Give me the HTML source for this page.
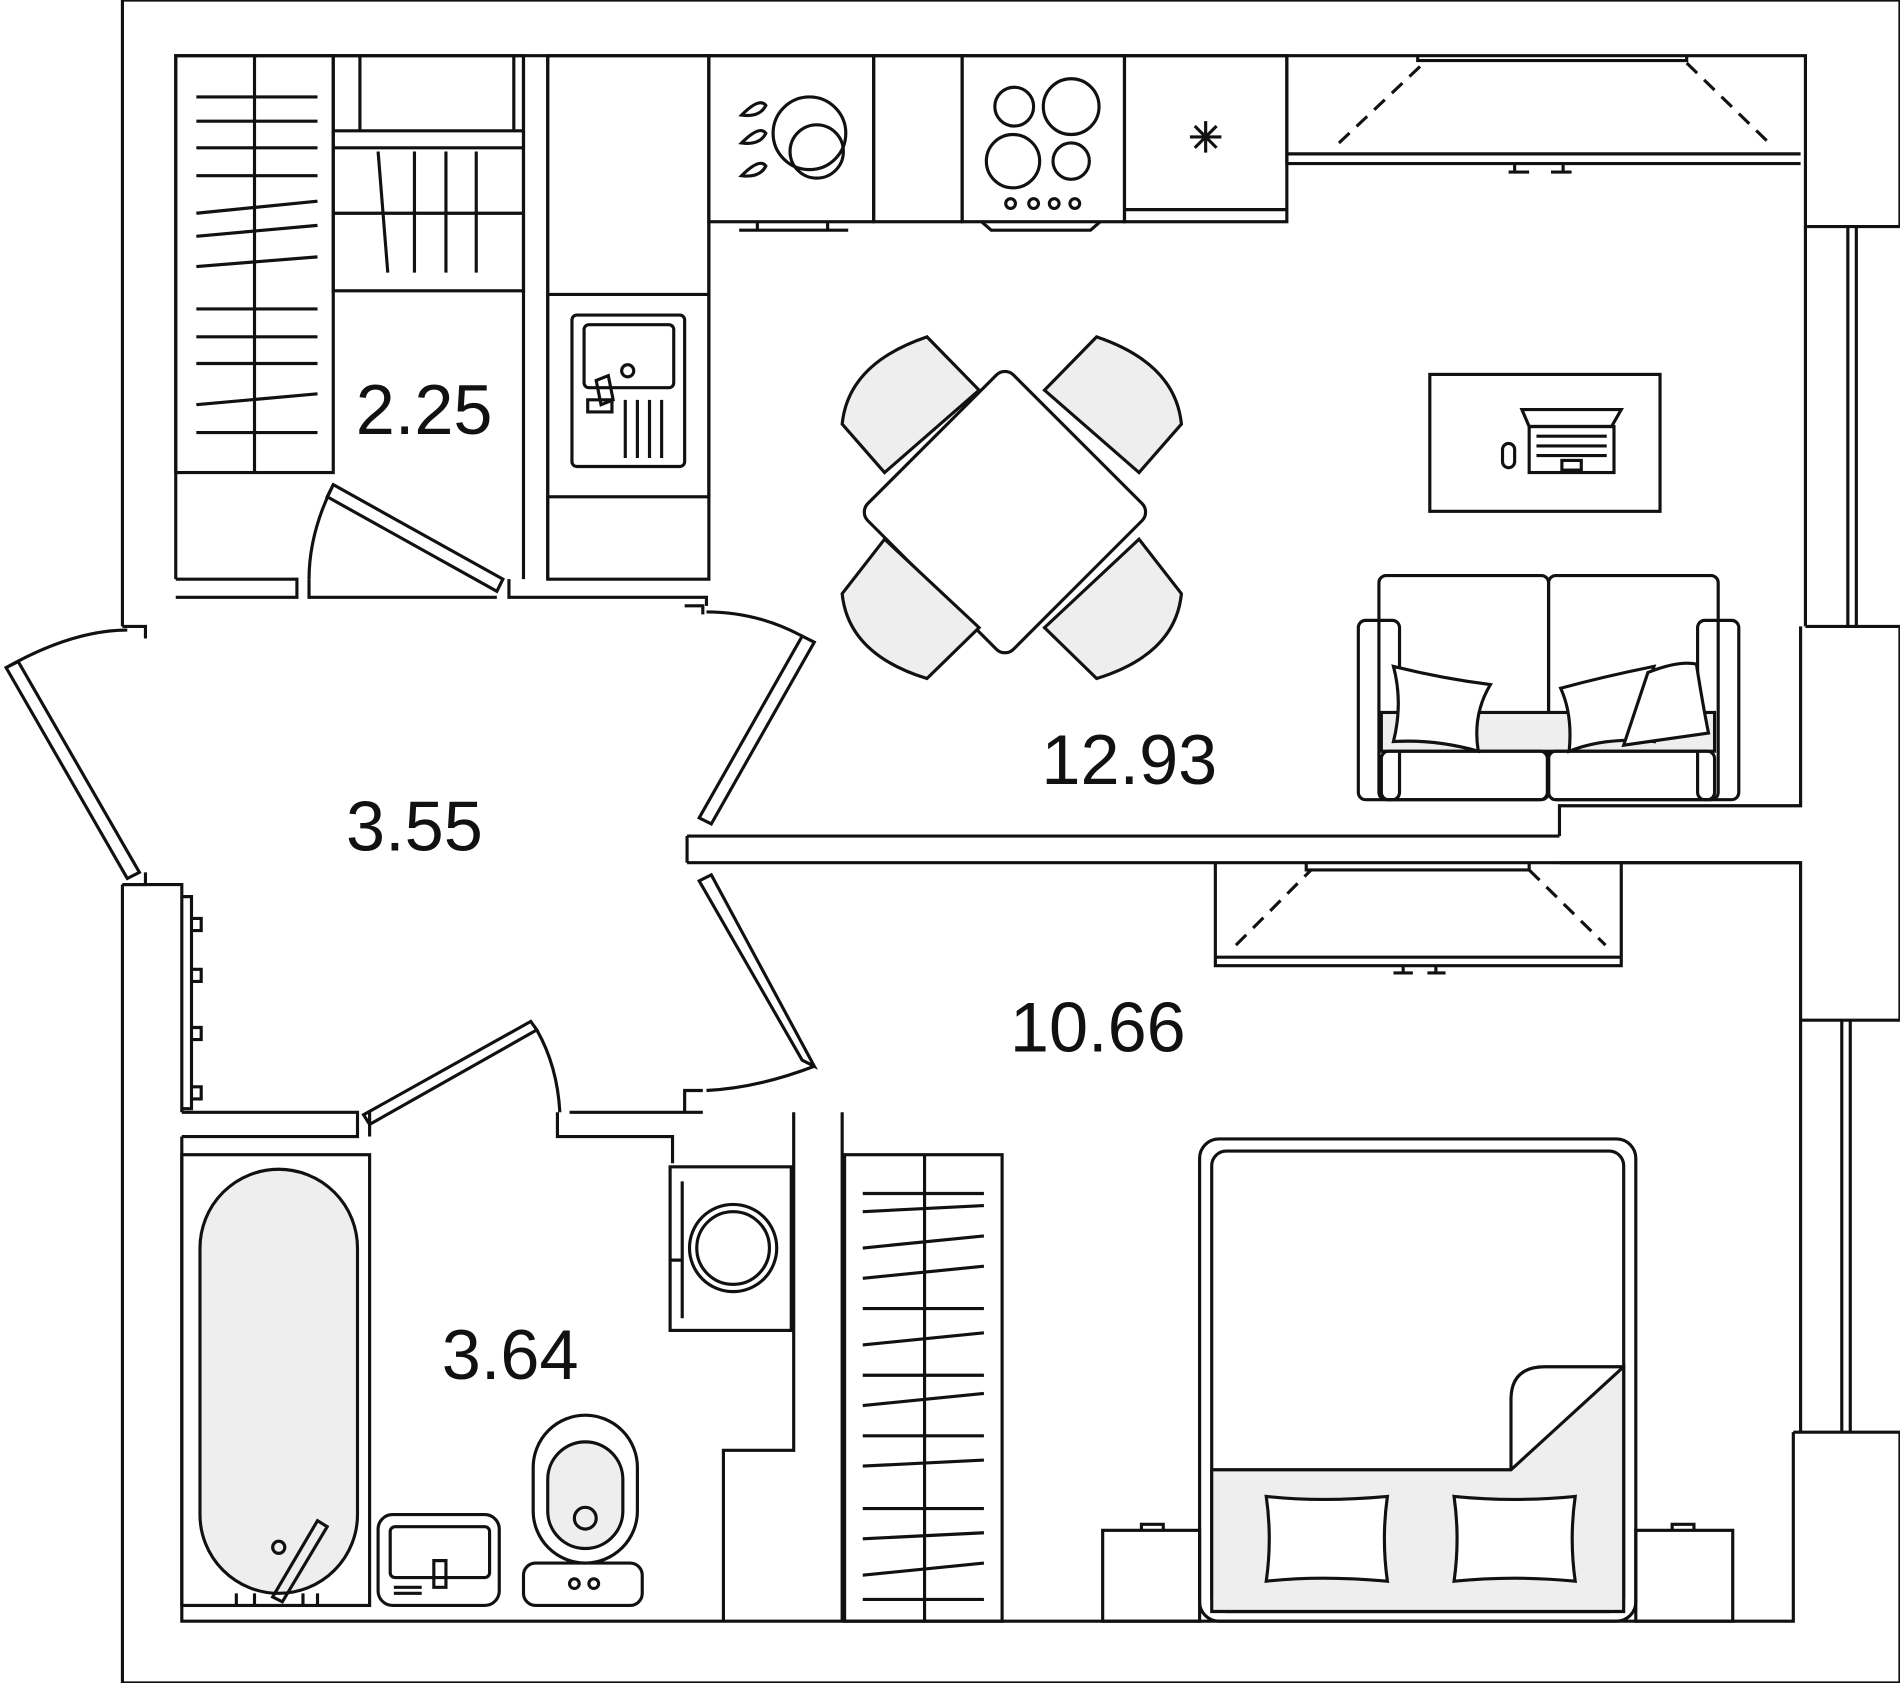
<!DOCTYPE html>
<html><head><meta charset="utf-8"><style>
html,body{margin:0;padding:0;background:#fff;}
svg{display:block;}
text{font-family:"Liberation Sans",sans-serif;font-size:58px;fill:#111;}
</style></head><body>
<svg width="1900" height="1683" viewBox="0 0 1568 1389" xmlns="http://www.w3.org/2000/svg">
<rect width="1568" height="1389" fill="#fff"/>
<g fill="none" stroke="#111" stroke-width="2.6">
<!-- outer walls -->
<path d="M101,517 V0 H1568 V187 M1568,517 V842 M1568,1182 V1389 H101 V730"/>
<path d="M145,478 V46 H1490 V187 H1568"/>
<path d="M1490,187 V517 M1525,187 V517 M1532,187 V517"/>
<path d="M1490,517 H1568 M1486,517 V665 H1287 V690 M1287,712 H1486 V842 H1568"/>
<path d="M1486,842 V1182 M1520,842 V1182 M1527,842 V1182"/>
<path d="M1480,1182 H1568 M1480,1182 V1338 H150 V938"/>
<path d="M101,517 H120 V527 M101,730 H120 V720"/>
<path d="M101,730 H150 V918"/>
<!-- partition walls -->
<path d="M145,478 H245 V493 H145 M255,478 V493 H410 M420,478 V493 H583 V500"/>
<path d="M432,46 V478 M452,46 V478"/>
<path d="M567,690 H1287 M567,712 H1486 M567,690 V712"/>
<path d="M150,918 H295 V938 H150 M305,918 V938 M460,918 V938 H555 V960 M470,918 H580 M695,918 V1338 M655,918 V1197 H597 V1338"/>
<path d="M565,918 V900 H580 M565,500 H580 V507"/>
<!-- doors -->
<path d="M5,551 L105,725 L115,720 L15,546 Z"/>
<path d="M5,551 Q60,520 105,520"/>
<path d="M275,400 L415,478 L410,488 L270,410 Z"/>
<path d="M275,400 Q255,440 255,478"/>
<path d="M662,525 L577,675 L587,680 L672,530 Z"/>
<path d="M662,525 Q625,505 583,505"/>
<path d="M662,875 L577,727 L587,722 L672,880 Z"/>
<path d="M672,880 Q625,898 583,900"/>
<path d="M300,920 L438,843 L443,850 L305,928 Z"/>
<path d="M443,850 Q460,880 462,918"/>
<!-- closet 2.25 -->
<rect x="145" y="46" width="130" height="344"/>
<path d="M210,46 V390"/>
<path d="M162,80 H262 M162,100 H262 M162,122 H262 M162,145 H262 M162,176 L262,166 M162,195 L262,186 M162,220 L262,212 M162,255 H262 M162,278 H262 M162,300 H262 M162,334 L262,325 M162,357 H262"/>
<rect x="275" y="46" width="157" height="194"/>
<path d="M297,46 V108 H424 V46 M275,108 H432 M275,122 H432 M275,176 H432 M312,125 L320,225 M342,125 V225 M368,125 V225 M393,125 V225"/>
<!-- kitchen -->
<rect x="452" y="46" width="133" height="364"/>
<path d="M452,243 H585 M452,410 V478 H585 V46"/>
<rect x="472" y="260" width="93" height="125" rx="4"/>
<rect x="482" y="268" width="74" height="52" rx="4"/>
<circle cx="518" cy="306" r="5"/>
<path d="M492,314 L502,310 L506,330 L496,334 Z M485,330 H505 V340 H485 Z M516,330 V378 M526,330 V378 M536,330 V378 M546,330 V378"/>
<rect x="585" y="46" width="136" height="137"/>
<circle cx="668" cy="110" r="30"/><circle cx="674" cy="125" r="22"/>
<path d="M612,95 q15,-15 20,-8 q-5,10 -20,8 Z M612,118 q15,-15 20,-8 q-5,10 -20,8 Z M612,145 q15,-15 20,-8 q-5,10 -20,8 Z"/>
<path d="M625,183 V190 H683 V183 M610,190 H700"/>
<rect x="721" y="46" width="73" height="137"/>
<rect x="794" y="46" width="134" height="137"/>
<circle cx="837" cy="88" r="16"/><circle cx="884" cy="88" r="23"/><circle cx="836" cy="133" r="22"/><circle cx="884" cy="133" r="15"/>
<circle cx="834" cy="168" r="4"/><circle cx="853" cy="168" r="4"/><circle cx="870" cy="168" r="4"/><circle cx="887" cy="168" r="4"/>
<path d="M810,183 L818,190 H900 L908,183"/>
<rect x="928" y="46" width="134" height="137"/>
<path d="M928,173 H1062 M982,113 H1008 M995,100 V126 M986,104 L1004,122 M1004,104 L986,122"/>
<!-- wardrobe top right -->
<path d="M1062,46 V135 H1486 M1062,127 H1486 M1170,46 V50 H1392 V46 M1250,135 V142 M1290,135 V142 M1245,142 H1262 M1280,142 H1297"/>
<path d="M1105,118 L1175,52 M1392,52 L1460,118" stroke-dasharray="12,8"/>
<!-- table -->
<rect x="750" y="340" width="170" height="170" rx="10" transform="rotate(45 835 417)"/>
<g fill="#eee">
<path d="M730,390 L695,350 Q700,300 765,278 L808,322 Z"/>
<path d="M940,390 L975,350 Q970,300 905,278 L862,322 Z"/>
<path d="M730,445 L695,490 Q700,540 765,560 L808,518 Z"/>
<path d="M940,445 L975,490 Q970,540 905,560 L862,518 Z"/>
</g>
<!-- desk & laptop -->
<rect x="1180" y="309" width="190" height="113"/>
<path d="M1256,338 H1338 L1330,352 H1262 Z"/><rect x="1262" y="352" width="70" height="38"/>
<path d="M1268,360 H1326 M1268,368 H1326 M1268,376 H1326"/><rect x="1289" y="380" width="16" height="8"/>
<rect x="1240" y="366" width="10" height="20" rx="5"/>
<!-- sofa -->
<rect x="1138" y="475" width="140" height="185" rx="6"/><rect x="1278" y="475" width="140" height="185" rx="6"/>
<rect x="1121" y="512" width="34" height="148" rx="6"/><rect x="1401" y="512" width="34" height="148" rx="6"/>
<rect x="1140" y="588" width="275" height="32" fill="#eee"/>
<rect x="1140" y="620" width="137" height="40" rx="6"/><rect x="1278" y="620" width="137" height="40" rx="6"/>
<path d="M1150,550 Q1190,560 1230,565 Q1215,590 1220,620 Q1185,610 1150,612 Q1158,580 1150,550 Z" fill="#fff"/>
<path d="M1288,568 Q1325,558 1365,550 Q1355,580 1365,612 Q1325,608 1295,620 Q1298,590 1288,568 Z" fill="#fff"/>
<path d="M1360,555 Q1385,545 1400,548 Q1405,580 1410,605 L1340,615 Z" fill="#fff"/>
<!-- wardrobe 10.66 -->
<path d="M1003,712 V797 H1338 V712 M1003,790 H1338 M1078,712 V718 H1262 V712 M1158,797 V803 M1185,797 V803 M1150,803 H1166 M1178,803 H1193"/>
<path d="M1020,780 L1082,718 M1262,718 L1325,780" stroke-dasharray="12,8"/>
<!-- closet bottom -->
<rect x="697" y="953" width="130" height="385"/>
<path d="M763,953 V1338 M712,985 H812 M712,1000 L812,995 M712,1030 L812,1020 M712,1055 L812,1045 M712,1080 H812 M712,1110 L812,1100 M712,1135 H812 M712,1160 L812,1150 M712,1185 H812 M712,1210 L812,1205 M712,1245 H812 M712,1270 L812,1265 M712,1300 L812,1290 M712,1320 H812"/>
<!-- bed -->
<rect x="990" y="940" width="360" height="398" rx="16"/>
<rect x="1000" y="950" width="340" height="380" rx="12"/>
<path d="M1000,1213 H1247 L1340,1128 V1330 H1000 Z" fill="#eee"/>
<path d="M1247,1213 V1155 Q1247,1128 1275,1128 H1340"/>
<path d="M1045,1235 Q1090,1240 1145,1235 Q1140,1270 1145,1305 Q1090,1300 1045,1305 Q1050,1270 1045,1235 Z" fill="#fff"/>
<path d="M1200,1235 Q1250,1240 1300,1235 Q1295,1270 1300,1305 Q1250,1300 1200,1305 Q1205,1270 1200,1235 Z" fill="#fff"/>
<rect x="910" y="1263" width="80" height="75"/><rect x="1350" y="1263" width="80" height="75"/>
<path d="M942,1263 V1258 H960 V1263 M1380,1263 V1258 H1398 V1263"/>
<!-- bathroom -->
<rect x="150" y="953" width="155" height="372"/>
<rect x="165" y="965" width="130" height="350" rx="65" fill="#eee"/>
<circle cx="230" cy="1277" r="5"/>
<path d="M225,1318 L262,1255 L270,1260 L233,1322 Z M195,1315 V1325 M210,1315 V1325 M250,1315 V1325 M262,1315 V1325"/>
<rect x="312" y="1250" width="100" height="75" rx="12"/>
<rect x="322" y="1260" width="82" height="42" rx="4"/>
<path d="M358,1288 H368 V1310 H358 Z M325,1310 H348 M325,1315 H348"/>
<rect x="432" y="1290" width="98" height="35" rx="10"/>
<rect x="440" y="1168" width="86" height="122" rx="43"/>
<rect x="452" y="1190" width="62" height="88" rx="31" fill="#eee"/>
<circle cx="483" cy="1253" r="9"/><circle cx="474" cy="1307" r="4"/><circle cx="490" cy="1307" r="4"/>
<rect x="553" y="963" width="100" height="135"/>
<path d="M563,975 V1088 M553,1040 H563"/><circle cx="605" cy="1030" r="36"/><circle cx="605" cy="1030" r="30"/>
<!-- radiator -->
<path d="M150,740 H158 V915 H150 M158,758 H166 V768 H158 M158,800 H166 V810 H158 M158,848 H166 V858 H158 M158,897 H166 V907 H158"/>
</g>
<text x="350" y="358" text-anchor="middle">2.25</text>
<text x="342" y="702" text-anchor="middle">3.55</text>
<text x="932" y="647" text-anchor="middle">12.93</text>
<text x="906" y="868" text-anchor="middle">10.66</text>
<text x="421" y="1138" text-anchor="middle">3.64</text>
</svg>
</body></html>
